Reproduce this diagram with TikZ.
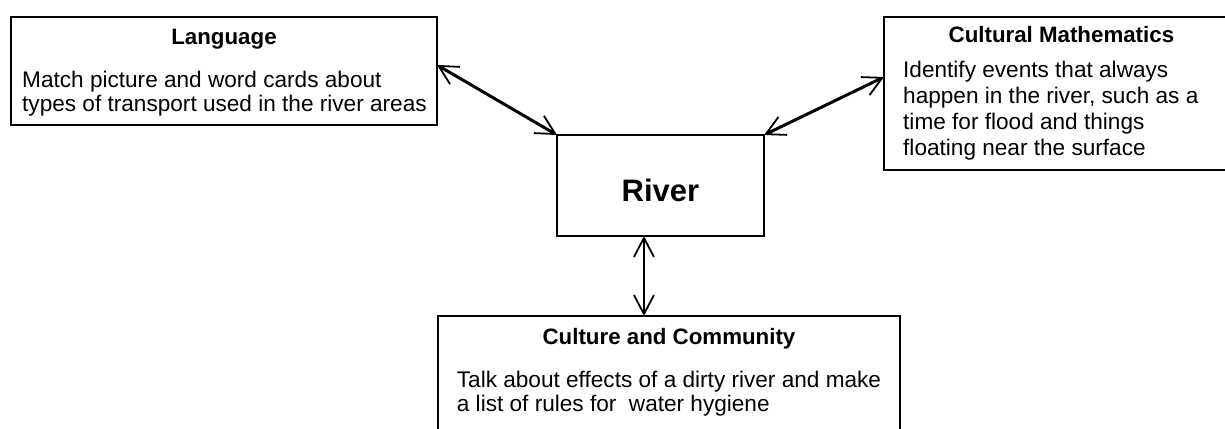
\documentclass[tikz,border=0pt]{standalone}
\usepackage{fontspec}
\setmainfont{Liberation Sans}
\usetikzlibrary{arrows.meta,calc}
\begin{document}
\begin{tikzpicture}[x=1pt,y=-1pt,
  box/.style={draw=black,line width=2.2pt,rectangle,inner sep=0pt,outer sep=0pt},
  ttl/.style={font=\fontsize{22.3}{25}\selectfont\bfseries,anchor=base,inner sep=0pt},
  body/.style={font=\fontsize{22.6}{25}\selectfont,anchor=base west,inner sep=0pt},
  barb/.tip={Straight Barb[length=19pt,width=20pt,line width=1.8pt]},
  link/.style={line width=3pt,barb-barb},
  vlink/.style={line width=2.2pt,barb-barb}]
\useasboundingbox (0,0) rectangle (1225,428);
\fill[white] (0,0) rectangle (1225,428);

% boxes
\node[box,minimum width=426pt,minimum height=108pt] (lang) at (224,71) {};
\node[box,minimum width=356pt,minimum height=153pt] (math) at (1062,93.5) {};
\node[box,line width=2.2pt,minimum width=207pt,minimum height=101pt] (river) at (660.5,185.5) {};
\node[box,minimum width=462pt,minimum height=129pt] (cult) at (669,380.5) {};

% texts
\node[ttl] (langT) at (224,44.3) {Language};
\node[body] (langB1) at (22,87.3) {Match picture and word cards about};
\node[body] (langB2) at (22,111.7) {types of transport used in the river areas};

\node[ttl] (mathT) at (1061.4,42.7) {Cultural Mathematics};
\node[body] (mathB1) at (903,77.3) {Identify events that always};
\node[body] (mathB2) at (903,103.5) {happen in the river, such as a};
\node[body] (mathB3) at (903,129.5) {time for flood and things};
\node[body] (mathB4) at (903,155.5) {floating near the surface};

\node[font=\fontsize{31}{36}\selectfont\bfseries,anchor=base,inner sep=0pt] (riverT) at (660.5,201) {River};

\node[ttl] (cultT) at (669,344.3) {Culture and Community};
\node[body] (cultB1) at (456.7,387.3) {Talk about effects of a dirty river and make};
\node[body] (cultB2) at (456.7,411.7) {a list of rules for\ \ water hygiene};

% connectors
\coordinate (la) at ($(lang.north east)!0.444!(lang.south east)$);
\coordinate (ma) at ($(math.north west)!0.392!(math.south west)$);
\coordinate (rb) at ($(river.south west)!0.42!(river.south east)$);
\draw[link] (la) -- (river.north west);
\draw[link] (ma) -- (river.north east);
\draw[vlink] (rb) -- (rb |- cult.north);
\end{tikzpicture}
\end{document}
